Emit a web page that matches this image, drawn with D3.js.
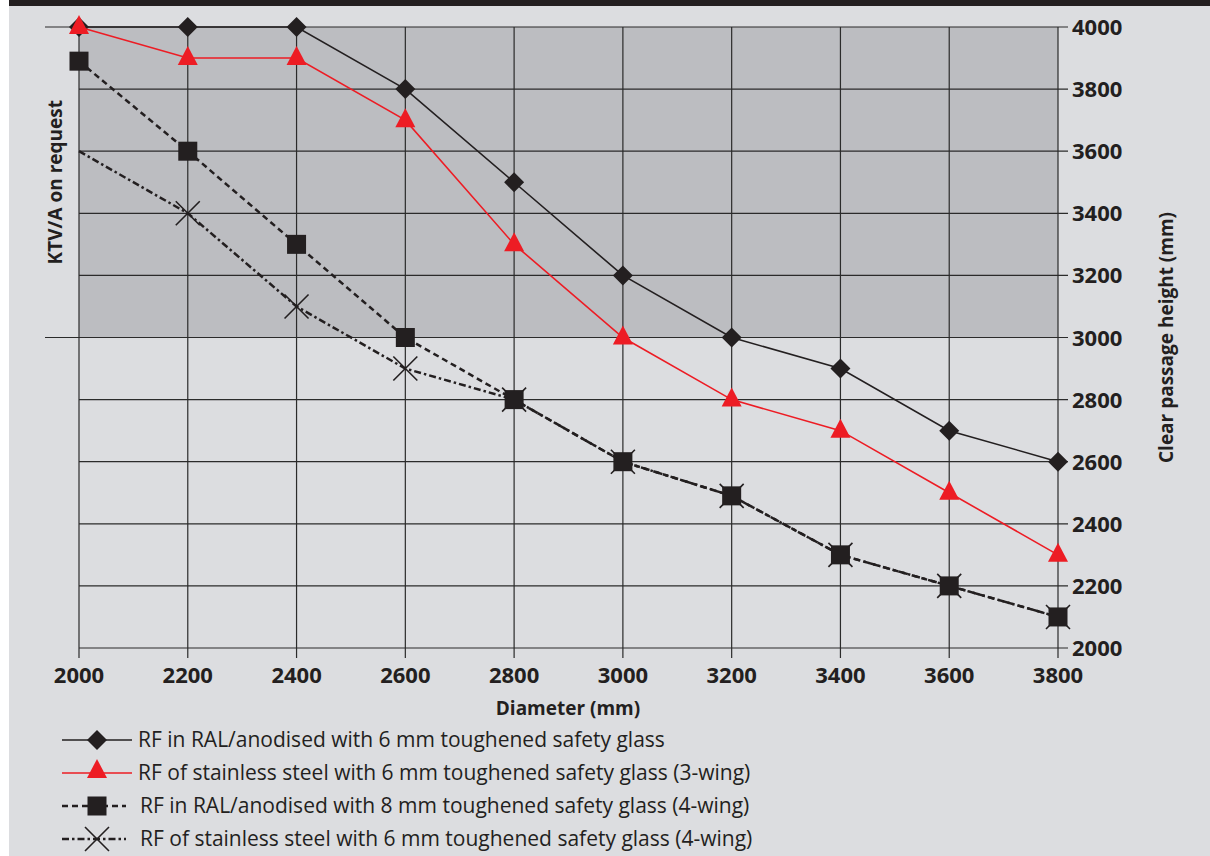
<!DOCTYPE html>
<html>
<head>
<meta charset="utf-8">
<script src="https://cdn.jsdelivr.net/npm/d3@7"></script>
<style>
  body { margin: 0; background: #fff; }
  svg { display: block; }
  text { font-family: "Open Sans", sans-serif; fill: #231f20; }
</style>
</head>
<body>
<svg id="main-svg" width="1210" height="856"></svg>
<script>
// diameters along the bottom axis
var diameters = [2000, 2200, 2400, 2600, 2800, 3000, 3200, 3400, 3600, 3800];
var heightTicks = [2000, 2200, 2400, 2600, 2800, 3000, 3200, 3400, 3600, 3800, 4000];

// clear passage heights per series
var ralSix      = [4000, 4000, 4000, 3800, 3500, 3200, 3000, 2900, 2700, 2600];
var steelThree  = [4000, 3900, 3900, 3700, 3300, 3000, 2800, 2700, 2500, 2300];
var ralEight    = [3890, 3600, 3300, 3000, 2800, 2600, 2490, 2300, 2200, 2100];
var steelFour   = [3600, 3400, 3100, 2900, 2800, 2600, 2490, 2300, 2200, 2100];

var legendLabels = [
    "RF in RAL/anodised with 6 mm toughened safety glass",
    "RF of stainless steel with 6 mm toughened safety glass (3-wing)",
    "RF in RAL/anodised with 8 mm toughened safety glass (4-wing)",
    "RF of stainless steel with 6 mm toughened safety glass (4-wing)"
];

var ktvFrom = 3000, ktvTo = 4000;   // shaded "KTV/A on request" band

var ink = '#231f20', red = '#ed1c24';

var series = [
    {values: ralSix,     color: ink, width: 1.6, dash: null,        marker: 'diamond', skipFirst: false},
    {values: steelThree, color: red, width: 1.6, dash: null,        marker: 'triangle', skipFirst: false},
    {values: ralEight,   color: ink, width: 2.5, dash: '6,4',       marker: 'square', skipFirst: false},
    {values: steelFour,  color: ink, width: 2.5, dash: '7,3,2.5,3', marker: 'cross', skipFirst: true}
];

var svg = d3.select('#main-svg');

var x = d3.scaleLinear().domain([2000, 3800]).range([79, 1058]);
var y = d3.scaleLinear().domain([2000, 4000]).range([648, 27]);

// backgrounds
svg.append('rect').attr('x', 9).attr('y', 0).attr('width', 1201).attr('height', 856).attr('fill', '#dcdde0');
svg.append('rect').attr('x', 9).attr('y', 0).attr('width', 1201).attr('height', 6).attr('fill', ink);
svg.append('rect')
    .attr('x', x(2000)).attr('y', y(ktvTo))
    .attr('width', x(3800) - x(2000)).attr('height', y(ktvFrom) - y(ktvTo))
    .attr('fill', '#bcbdc1');

// grid
var grid = svg.append('g').attr('stroke', '#2b2b2b').attr('stroke-width', 1.2);
grid.selectAll('line.h').data(heightTicks).enter().append('line')
    .attr('x1', function(d) { return (d === ktvFrom || d === ktvTo) ? 45 : x(2000); })
    .attr('x2', 1068)
    .attr('y1', function(d) { return y(d); })
    .attr('y2', function(d) { return y(d); });
grid.selectAll('line.v').data(diameters).enter().append('line')
    .attr('x1', function(d) { return x(d); })
    .attr('x2', function(d) { return x(d); })
    .attr('y1', y(4000))
    .attr('y2', y(2000) + 10);

// axes labels
svg.append('g').selectAll('text').data(diameters).enter().append('text')
    .attr('x', function(d) { return x(d); })
    .attr('y', 683)
    .attr('text-anchor', 'middle')
    .attr('font-size', 22).attr('font-weight', 'bold')
    .text(function(d) { return d; });
svg.append('g').selectAll('text').data(heightTicks).enter().append('text')
    .attr('x', 1072)
    .attr('y', function(d) { return y(d) + 8; })
    .attr('font-size', 22).attr('font-weight', 'bold')
    .text(function(d) { return d; });

svg.append('text').attr('x', 568).attr('y', 715).attr('text-anchor', 'middle')
    .attr('font-size', 19).attr('font-weight', 'bold').text('Diameter (mm)');
svg.append('text').attr('transform', 'translate(1173,' + y(3000) + ') rotate(-90)')
    .attr('text-anchor', 'middle')
    .attr('font-size', 19).attr('font-weight', 'bold').text('Clear passage height (mm)');
svg.append('text').attr('transform', 'translate(62,' + ((y(ktvFrom) + y(ktvTo)) / 2) + ') rotate(-90)')
    .attr('text-anchor', 'middle')
    .attr('font-size', 19).attr('font-weight', 'bold').text('KTV/A on request');

// markers
function drawMarker(g, type, cx, cy, color) {
    if (type === 'diamond') {
        g.append('path').attr('d', 'M' + cx + ',' + (cy - 10) + 'L' + (cx + 10) + ',' + cy +
            'L' + cx + ',' + (cy + 10) + 'L' + (cx - 10) + ',' + cy + 'Z').attr('fill', color);
    } else if (type === 'triangle') {
        g.append('path').attr('d', 'M' + cx + ',' + (cy - 12) + 'L' + (cx + 10) + ',' + (cy + 7) +
            'L' + (cx - 10) + ',' + (cy + 7) + 'Z').attr('fill', color);
    } else if (type === 'square') {
        g.append('rect').attr('x', cx - 9.5).attr('y', cy - 9.5).attr('width', 19).attr('height', 19).attr('fill', color);
    } else {
        g.append('path').attr('d', 'M' + (cx - 12) + ',' + (cy - 12) + 'L' + (cx + 12) + ',' + (cy + 12) +
            'M' + (cx + 12) + ',' + (cy - 12) + 'L' + (cx - 12) + ',' + (cy + 12))
            .attr('stroke', color).attr('stroke-width', 1.6).attr('fill', 'none');
    }
}

var line = d3.line()
    .x(function(d, i) { return x(diameters[i]); })
    .y(function(d) { return y(d); });

// draw bottom-up so the solid lines sit on top
[3, 2, 0, 1].forEach(function(k) {
    var s = series[k];
    var g = svg.append('g');
    g.append('path').attr('d', line(s.values))
        .attr('fill', 'none').attr('stroke', s.color).attr('stroke-width', s.width)
        .attr('stroke-dasharray', s.dash);
    s.values.forEach(function(v, i) {
        if (s.skipFirst && i === 0) return;   // no cross drawn at 2000 in the original
        drawMarker(g, s.marker, x(diameters[i]), y(v), s.color);
    });
});

// legend
var legendY = [740, 773, 806, 839];
series.forEach(function(s, i) {
    var g = svg.append('g');
    var cy = legendY[i];
    var x2 = s.dash ? 126 : 132;
    g.append('line').attr('x1', 62).attr('x2', x2).attr('y1', cy).attr('y2', cy)
        .attr('stroke', s.color).attr('stroke-width', s.width).attr('stroke-dasharray', s.dash);
    drawMarker(g, s.marker, 97, s.marker === 'triangle' ? cy - 2 : cy, s.color);
    g.append('text').attr('x', s.dash ? 140 : 138).attr('y', cy + 7)
        .attr('font-size', 21).text(legendLabels[i]);
});
</script>
</body>
</html>
